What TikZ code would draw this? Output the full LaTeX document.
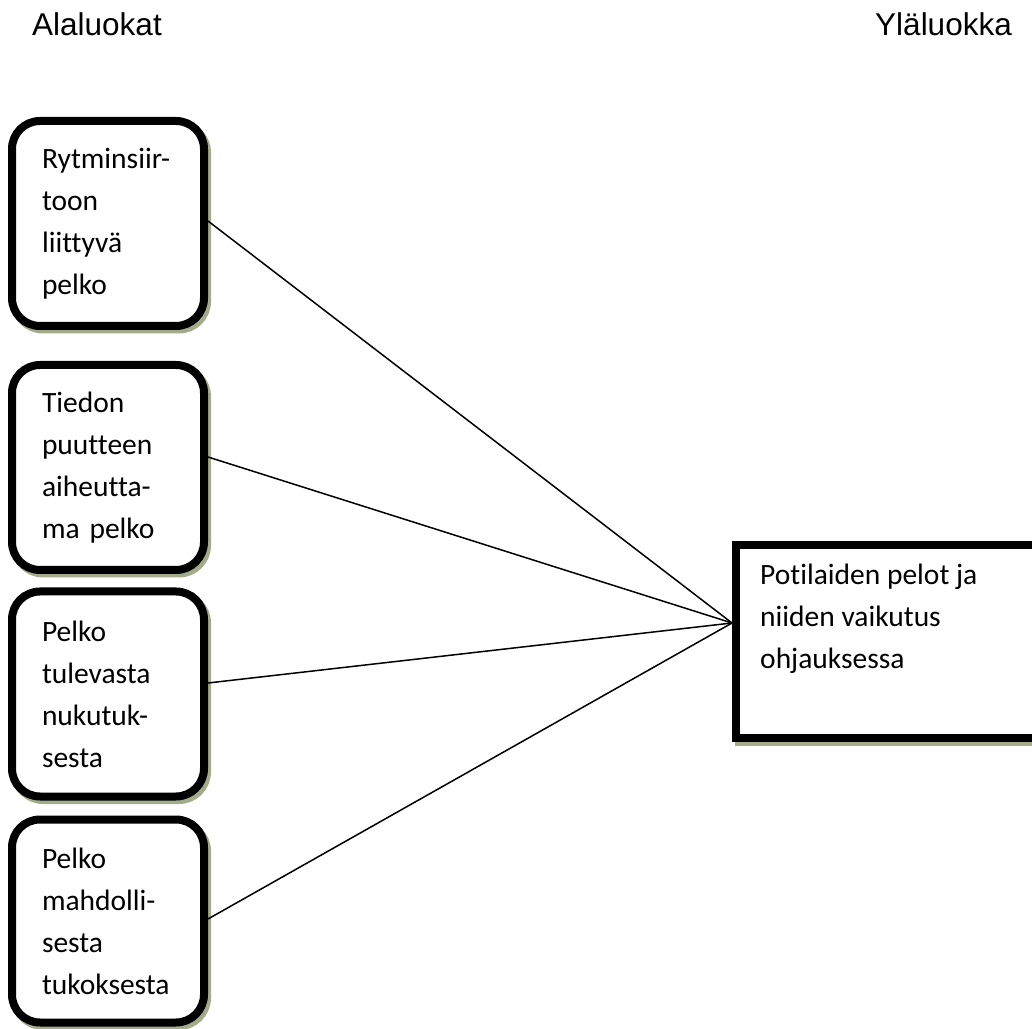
\documentclass[tikz,border=0pt]{standalone}
\usepackage{fontspec}
\setmainfont{Carlito}[Ligatures=NoCommon]
\newfontfamily\hdrfont{Liberation Sans}
\usetikzlibrary{shadows}
\definecolor{shadowcol}{RGB}{163,172,138}
\begin{document}
\begin{tikzpicture}[x=1pt,y=1pt,
  boxshadow/.style={drop shadow={shadow xshift=3pt,shadow yshift=-3.5pt,draw=shadowcol,fill=shadowcol,line width=8pt,opacity=1}},
  subbox/.style={draw=black,line width=8pt,fill=white,rounded corners=28pt,
    minimum width=192pt,minimum height=205pt,text width=132pt,align=left,
    inner sep=0pt,font=\fontsize{29.5}{42}\selectfont,boxshadow},
  mainbox/.style={draw=black,line width=8pt,fill=white,sharp corners,
    minimum width=310pt,minimum height=193pt,inner sep=0pt,boxshadow},
  bodytext/.style={inner sep=0pt,align=left,font=\fontsize{29.5}{42}\selectfont},
  hdr/.style={inner sep=0pt,font=\hdrfont\fontsize{31.5}{36}\selectfont},
  conn/.style={draw=black,line width=1.5pt}]
\useasboundingbox (0,0) rectangle (1032,1028);
\node[hdr,anchor=base west] (hl) at (32,992) {Alaluokat};
\node[hdr,anchor=base east] (hr) at (1012,992) {Yläluokka};
\node[subbox] (b1) at (108,804.5) {Rytminsiir-\\toon\\liittyvä\\pelko};
\node[subbox] (b2) at (108,560.5) {Tiedon\\puutteen\\aiheutta-\\ma pelko};
\node[subbox] (b3) at (108,334) {Pelko\\tulevasta\\nukutuk-\\sesta};
\node[subbox,minimum height=203pt] (b4) at (108,107) {Pelko\\mahdolli-\\sesta\\tukoksesta};
\node[mainbox] (m) at (891,386.5) {};
\node[bodytext,anchor=north west] (mt) at (760,464) {Potilaiden pelot ja\\niiden vaikutus\\ohjauksessa};
\coordinate (hub) at ([yshift=18.5pt]m.west);
\draw[conn] ([yshift=2.5pt]b1.east) -- (hub);
\draw[conn] ([yshift=10.5pt]b2.east) -- (hub);
\draw[conn] ([yshift=11pt]b3.east) -- (hub);
\draw[conn] ([yshift=2pt]b4.east) -- (hub);
\end{tikzpicture}
\end{document}
